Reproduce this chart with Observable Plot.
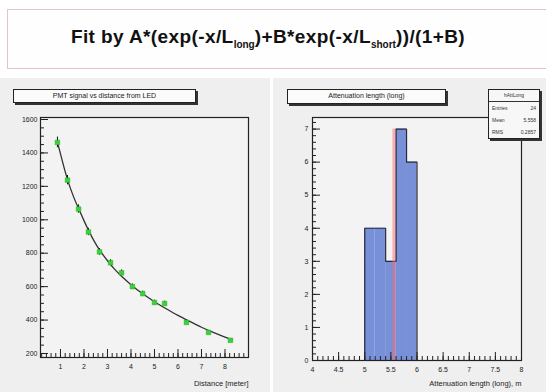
<!DOCTYPE html>
<html>
<head>
<meta charset="utf-8">
<script src="https://cdn.jsdelivr.net/npm/d3@7"></script>
<script src="https://cdn.jsdelivr.net/npm/@observablehq/plot@0.6"></script>
<style>
  html, body { margin: 0; padding: 0; background: #fff; }
  #root { position: relative; width: 546px; height: 392px; overflow: hidden; background: #fff; font-family: "Liberation Sans", Arial, sans-serif; }
  .pad { position: absolute; background: #efefef; }
  .tbox { position: absolute; background: #fbfbfb; border: 1px solid #222; box-shadow: 2px 2px 0 #333; font-size: 7px; color: #222; text-align: center; line-height: 12px; white-space: nowrap; }
  #mainTitle { position: absolute; left: 7px; top: 9px; width: 545px; height: 60px; border: 1px solid #e7c2c2; background: #fefefe; box-sizing: border-box; }
  #mainTitle span { position: absolute; left: 0; width: 520px; top: 16px; text-align: center; font-weight: bold; font-size: 19px; letter-spacing: 0.4px; color: #111; }
  #mainTitle sub { font-size: 10px; vertical-align: -5px; letter-spacing: 0; }
  #stats { position: absolute; left: 488px; top: 89px; width: 52px; height: 50px; background: #f7f7f7; border: 1px solid #222; box-shadow: 2px 2px 0 #333; font-size: 5px; color: #333; box-sizing: border-box; }
  #stats .hd { text-align: center; border-bottom: 1px solid #333; height: 11px; line-height: 11px; }
  #stats .row { display: flex; justify-content: space-between; padding: 0 3px; height: 12px; line-height: 12px; }
  .plot { position: absolute; }
</style>
</head>
<body>
<div id="root">
  <div id="mainTitle"><span>Fit by A*(exp(-x/L<sub>long</sub>)+B*exp(-x/L<sub>short</sub>))/(1+B)</span></div>
  <div class="pad" style="left:0;top:78px;width:270px;height:314px"></div>
  <div class="pad" style="left:273px;top:78px;width:273px;height:314px"></div>
  <div id="left" class="plot" style="left:0;top:78px"></div>
  <div id="right" class="plot" style="left:273px;top:78px"></div>
  <div class="tbox" style="left:13px;top:89px;width:181px;height:12px">PMT signal vs distance from LED</div>
  <div class="tbox" style="left:287px;top:89px;width:157px;height:13px">Attenuation length (long)</div>
  <div id="stats">
    <div class="hd">hAttLong</div>
    <div class="row"><span>Entries</span><span id="sEntries"></span></div>
    <div class="row"><span>Mean</span><span id="sMean"></span></div>
    <div class="row"><span>RMS</span><span id="sRms"></span></div>
  </div>
</div>
<script>
// ---- left panel data: PMT signal vs distance from LED ----
const distance = [0.87, 1.30, 1.77, 2.19, 2.66, 3.13, 3.60, 4.06, 4.50, 5.00, 5.43, 6.36, 7.30, 8.23];
const signal   = [1463, 1237, 1064, 927, 808, 743, 683, 600, 558, 505, 499, 386, 326, 279];
const sigErr   = [32, 28, 25, 22, 20, 18, 17, 16, 15, 14, 14, 12, 11, 10];
// fit curve
const fitX = [0.87, 1.1, 1.3, 1.55, 1.8, 2.0, 2.2, 2.45, 2.7, 3.0, 3.3, 3.6, 4.0, 4.5, 5.0, 5.5, 6.0, 6.5, 7.0, 7.5, 8.0, 8.3];
const fitY = [1465, 1340, 1240, 1140, 1058, 995, 935, 868, 812, 755, 705, 662, 612, 557, 510, 468, 428, 392, 357, 326, 298, 283];
const leftXTicks = [1, 2, 3, 4, 5, 6, 7, 8];
const leftYTicks = [200, 400, 600, 800, 1000, 1200, 1400, 1600];

// ---- right panel data: attenuation length histogram ----
const binLo  = [5.0, 5.2, 5.4, 5.6, 5.8];
const binHi  = [5.2, 5.4, 5.6, 5.8, 6.0];
const counts = [4, 4, 3, 7, 6];
const rightXTicks = [4, 4.5, 5, 5.5, 6, 6.5, 7, 7.5, 8];
const rightXLabels = ["4", "4.5", "5", "5.5", "6", "6.5", "7", "7.5", "8"];
const rightYTicks = [0, 1, 2, 3, 4, 5, 6, 7];

const font = "Liberation Sans, Arial, sans-serif";

// ---------- left plot ----------
const LW = 270, LH = 314, LM = {top: 39, right: 22, bottom: 35, left: 40};
const pts = distance.map((d, i) => ({x: d, y: signal[i], lo: signal[i] - sigErr[i], hi: signal[i] + sigErr[i]}));
const fit = fitX.map((d, i) => ({x: d, y: fitY[i]}));
const lxDom = [0.15, 9.0], lyDom = [176, 1612];
const lMinorX = d3.range(0.2, 9.0, 0.2).filter(v => v > lxDom[0]);
const lMinorY = d3.range(200, 1612, 50);
const lInnerW = LW - LM.left - LM.right, lInnerH = LH - LM.top - LM.bottom;

const left = Plot.plot({
  width: LW, height: LH,
  marginTop: LM.top, marginRight: LM.right, marginBottom: LM.bottom, marginLeft: LM.left,
  style: {background: "transparent", fontFamily: font, fontSize: "7px", color: "#222", overflow: "visible"},
  x: {domain: lxDom},
  y: {domain: lyDom},
  marks: [
    Plot.frame({fill: "#f3f3f3", stroke: "none"}),
    Plot.ruleX(lMinorX, {stroke: "#222", insetTop: lInnerH - 4}),
    Plot.ruleX(leftXTicks, {stroke: "#222", insetTop: lInnerH - 8}),
    Plot.ruleY(lMinorY, {stroke: "#222", insetRight: lInnerW - 4}),
    Plot.ruleY(leftYTicks, {stroke: "#222", insetRight: lInnerW - 8}),
    Plot.axisX(leftXTicks, {tickSize: 0, tickPadding: 7, label: null, fontSize: 7}),
    Plot.axisY(leftYTicks, {tickSize: 0, tickPadding: 3, label: null, fontSize: 7, tickFormat: d3.format("d")}),
    Plot.line(fit, {x: "x", y: "y", stroke: "#333", strokeWidth: 1.3, curve: "natural"}),
    Plot.ruleX(pts, {x: "x", y1: "lo", y2: "hi", stroke: "#111", strokeWidth: 1}),
    Plot.dot(pts, {x: "x", y: "y", symbol: "square", r: 2.6, fill: "#3ad23a", stroke: "#22aa22", strokeWidth: 0.5}),
    Plot.frame({stroke: "#222", strokeWidth: 1.2}),
    Plot.text(["Distance [meter]"], {frameAnchor: "bottom-right", dy: 28, dx: 0, textAnchor: "end", fontSize: 7.5, fill: "#222"})
  ]
});
document.getElementById("left").appendChild(left);

// ---------- right plot ----------
const RW = 273, RH = 314, RM = {top: 39, right: 25, bottom: 32, left: 39};
const bins = binLo.map((d, i) => ({x1: d, x2: binHi[i], y: counts[i]}));
const outline = [{x: binLo[0], y: 0}, ...binLo.map((d, i) => ({x: d, y: counts[i]})), {x: binHi[binHi.length - 1], y: 0}];
const entries = d3.sum(counts);
const mean = d3.sum(bins, b => (b.x1 + b.x2) / 2 * b.y) / entries;
const rms = Math.sqrt(d3.sum(bins, b => ((b.x1 + b.x2) / 2 - mean) ** 2 * b.y) / entries);
document.getElementById("sEntries").textContent = entries;
document.getElementById("sMean").textContent = mean.toFixed(3);
document.getElementById("sRms").textContent = rms.toFixed(4);

const rxDom = [4, 8], ryDom = [0, 7.35];
const rMinorX = d3.range(4, 8.001, 0.1);
const rMinorY = d3.range(0, 7.35, 0.2);
const rInnerW = RW - RM.left - RM.right, rInnerH = RH - RM.top - RM.bottom;

const right = Plot.plot({
  width: RW, height: RH,
  marginTop: RM.top, marginRight: RM.right, marginBottom: RM.bottom, marginLeft: RM.left,
  style: {background: "transparent", fontFamily: font, fontSize: "7px", color: "#222", overflow: "visible"},
  x: {domain: rxDom},
  y: {domain: ryDom},
  marks: [
    Plot.frame({fill: "#f3f3f3", stroke: "none"}),
    Plot.rectY(bins, {x1: "x1", x2: "x2", y: "y", fill: "#7790d8"}),
    Plot.line(outline, {x: "x", y: "y", curve: "step-after", stroke: "#2a2a3a", strokeWidth: 1.2}),
    Plot.ruleX([mean], {y1: 0, y2: 7, stroke: "#ff6b6b", strokeOpacity: 0.5, strokeWidth: 3}),
    Plot.ruleX(rMinorX, {stroke: "#222", insetTop: rInnerH - 4}),
    Plot.ruleX(rightXTicks, {stroke: "#222", insetTop: rInnerH - 8}),
    Plot.ruleY(rMinorY, {stroke: "#222", insetRight: rInnerW - 4}),
    Plot.ruleY(rightYTicks, {stroke: "#222", insetRight: rInnerW - 8}),
    Plot.axisX(rightXTicks, {tickSize: 0, tickPadding: 7, label: null, fontSize: 7, tickFormat: (d, i) => rightXLabels[i]}),
    Plot.axisY(rightYTicks, {tickSize: 0, tickPadding: 4, label: null, fontSize: 7}),
    Plot.frame({stroke: "#222", strokeWidth: 1.2}),
    Plot.text(["Attenuation length (long), m"], {frameAnchor: "bottom-right", dy: 25, textAnchor: "end", fontSize: 7.5, fill: "#222"})
  ]
});
document.getElementById("right").appendChild(right);
</script>
</body>
</html>
